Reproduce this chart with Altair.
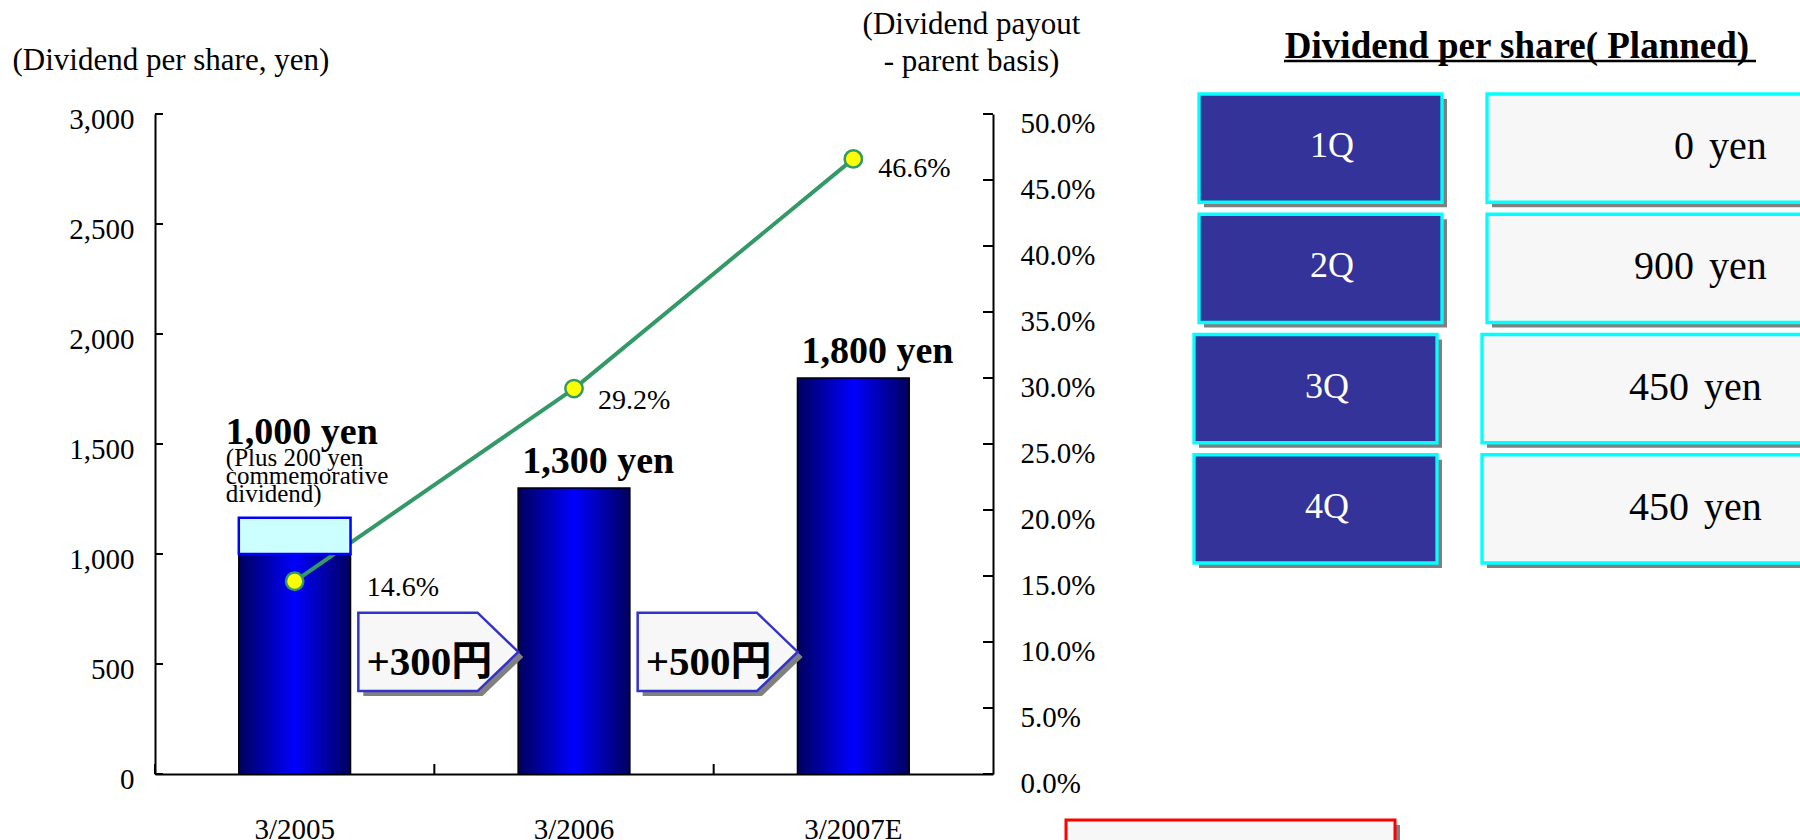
import altair as alt
import pandas as pd

# ---------------- data ----------------
YEARS = ["3/2005", "3/2006", "3/2007E"]
DIVIDEND = [1000, 1300, 1800]                 # yen per share
PAYOUT = [0.146, 0.292, 0.466]                # dividend payout, parent basis
COMMEM_BASE = [1000]                          # commemorative band on 3/2005
COMMEM_TOP = [1165]
NOTE_2005 = ["(Plus 200 yen", "commemorative", "dividend)"]
STEP_FROM = ["3/2005", "3/2006"]
STEP_TEXT = ["+300円", "+500円"]
STEP_LEVEL = [555, 555]
LEFT_TICKS = [0, 500, 1000, 1500, 2000, 2500, 3000]
RIGHT_TICKS = [0.0, 0.05, 0.10, 0.15, 0.20, 0.25, 0.30, 0.35, 0.40, 0.45, 0.50]
QUARTERS = ["1Q", "2Q", "3Q", "4Q"]
Q_AMOUNT = [0, 900, 450, 450]
TITLE_LEFT = "(Dividend per share, yen)"
TITLE_RIGHT = ["(Dividend payout", "- parent basis)"]
TABLE_TITLE = "Dividend per share( Planned)"

# ---------------- layout / style ----------------
W, H = 838, 660
PAD = {"left": 155, "top": 114, "right": 1800 - 155 - W, "bottom": 840 - 114 - H}
SERIF = "Liberation Serif, Noto Sans CJK JP, serif"
GREEN = "#339966"
ARROW = "M -1 -0.49 L 0.49 -0.49 L 1 0 L 0.49 0.49 L -1 0.49 Z"
ARROW_SIZE = 160 ** 2

GRAD = alt.LinearGradient(
    gradient="linear", x1=0, x2=1, y1=0, y2=0,
    stops=[alt.GradientStop(offset=0, color="#00005E"),
           alt.GradientStop(offset=0.5, color="#0000FF"),
           alt.GradientStop(offset=1, color="#00005E")])

df = pd.DataFrame({"year": YEARS, "div": DIVIDEND, "payout": PAYOUT})
box_df = pd.DataFrame({"year": YEARS[:1], "base": COMMEM_BASE, "top": COMMEM_TOP})
step_df = pd.DataFrame({"year": STEP_FROM, "level": STEP_LEVEL, "txt": STEP_TEXT})
lt_df = pd.DataFrame({"v": LEFT_TICKS})
rt_df = pd.DataFrame({"v": RIGHT_TICKS})
t_df = pd.DataFrame({"q": QUARTERS, "amt": Q_AMOUNT})
one = pd.DataFrame({"k": [0]})

x_axis = alt.Axis(domainColor="black", domainWidth=2, ticks=False, tickSize=0,
                  labelFont=SERIF, labelFontSize=29, labelColor="black",
                  labelPadding=41, labelAngle=0, grid=False)

y_left_axis = alt.Axis(orient="left", values=LEFT_TICKS, format=",.0f", grid=False,
                       ticks=False, tickSize=0, domainColor="black", domainWidth=2,
                       labelFont=SERIF, labelFontSize=29, labelColor="black",
                       labelPadding=21, labelOffset=5, labelFlush=False, labelOverlap=False,
                       title=TITLE_LEFT, titleAngle=0, titleAlign="left",
                       titleBaseline="middle", titleX=-143, titleY=-54,
                       titleFont=SERIF, titleFontSize=31, titleFontWeight="normal",
                       titleColor="black")

y_right_axis = alt.Axis(orient="right", values=RIGHT_TICKS, format=".1%", grid=False,
                        ticks=False, tickSize=0, domainColor="black", domainWidth=2,
                        labelFont=SERIF, labelFontSize=29, labelColor="black",
                        labelPadding=27, labelOffset=9, labelFlush=False, labelOverlap=False,
                        title=TITLE_RIGHT, titleAngle=0, titleAlign="center",
                        titleBaseline="top", titleX=-22, titleY=-105, titleLineHeight=37,
                        titleFont=SERIF, titleFontSize=31, titleFontWeight="normal",
                        titleColor="black")


def X(**kw):
    return alt.X("year:N", sort=YEARS, title=None, axis=x_axis,
                 scale=alt.Scale(type="band", paddingInner=0, paddingOuter=0), **kw)


def YL(field, axis=None):
    return alt.Y(f"{field}:Q", title=None, axis=axis,
                 scale=alt.Scale(domain=[0, 3000], nice=False, zero=True))


def YR(field, axis=None):
    return alt.Y(f"{field}:Q", title=None, axis=axis,
                 scale=alt.Scale(domain=[0, 0.5], nice=False, zero=True))


YT = alt.Y("q:N", sort=QUARTERS, axis=None, title=None,
           scale=alt.Scale(type="band", domain=QUARTERS, range=[-20, 449],
                           paddingInner=0.1, paddingOuter=0))

layers = []

# bars
layers.append(alt.Chart(df).mark_bar(width=alt.RelativeBandSize(0.4), fill=GRAD,
                                     stroke="black", strokeWidth=1.5)
              .encode(x=X(), y=YL("div", y_left_axis)))
# inner ticks
layers.append(alt.Chart(df).mark_rule(color="black", strokeWidth=2)
              .encode(x=X(bandPosition=0), y=alt.value(H - 10), y2=alt.value(H)))
layers.append(alt.Chart(lt_df).mark_rule(color="black", strokeWidth=2)
              .encode(y=YL("v"), x=alt.value(0), x2=alt.value(8)))
layers.append(alt.Chart(rt_df).mark_rule(color="black", strokeWidth=2)
              .encode(y=YR("v"), x=alt.value(W - 10), x2=alt.value(W)))
# payout line + points
layers.append(alt.Chart(df).mark_line(color=GREEN, strokeWidth=4)
              .encode(x=X(), y=YR("payout", y_right_axis)))
layers.append(alt.Chart(df).mark_circle(size=300, fill="#FFFF00", stroke=GREEN,
                                        strokeWidth=2.5, opacity=1)
              .encode(x=X(), y=YR("payout")))
# commemorative band
layers.append(alt.Chart(box_df).mark_bar(width=alt.RelativeBandSize(0.4), fill="#CCFFFF",
                                         stroke="#0000FF", strokeWidth=2.5)
              .encode(x=X(), y=YL("top"), y2=alt.Y2("base")))
# step arrows
layers.append(alt.Chart(step_df).mark_point(shape=ARROW, size=ARROW_SIZE, filled=True,
                                            fill="#808080", strokeWidth=0, opacity=1,
                                            xOffset=9, yOffset=5)
              .encode(x=X(bandPosition=1), y=YL("level")))
layers.append(alt.Chart(step_df).mark_point(shape=ARROW, size=ARROW_SIZE, filled=True,
                                            fill="#F7F7F7", stroke="#3333CC",
                                            strokeWidth=2.5, opacity=1, xOffset=4)
              .encode(x=X(bandPosition=1), y=YL("level")))
layers.append(alt.Chart(step_df).mark_text(font=SERIF, fontSize=41, fontWeight="bold",
                                           color="black", align="center", baseline="middle",
                                           dx=-5, dy=11)
              .encode(x=X(bandPosition=1), y=YL("level"), text="txt:N"))
# bar value labels
lab = alt.Chart(df).transform_calculate(label="format(datum.div, ',') + ' yen'")
layers.append(lab.transform_filter(f"datum.year != '{YEARS[0]}'")
              .mark_text(font=SERIF, fontSize=38, fontWeight="bold", color="black",
                         align="left", baseline="middle", dx=4, dy=-26)
              .encode(x=X(bandPosition=0.3), y=YL("div"), text="label:N"))
layers.append(lab.transform_filter(f"datum.year == '{YEARS[0]}'")
              .mark_text(font=SERIF, fontSize=38, fontWeight="bold", color="black",
                         align="left", baseline="middle", dx=-13, dy=-121)
              .encode(x=X(bandPosition=0.3), y=YL("div"), text="label:N"))
layers.append(alt.Chart(df).transform_filter(f"datum.year == '{YEARS[0]}'")
              .mark_text(font=SERIF, fontSize=25, lineHeight=18, color="black",
                         align="left", baseline="top", dx=-13, dy=-108)
              .encode(x=X(bandPosition=0.3), y=YL("div"), text=alt.value(NOTE_2005)))
# payout labels
PCT_OFFSETS = [(72, 7), (24, 12), (25, 10)]
for yr, (ddx, ddy) in zip(YEARS, PCT_OFFSETS):
    layers.append(alt.Chart(df).transform_filter(f"datum.year == '{yr}'")
                  .mark_text(font=SERIF, fontSize=28, color="black", align="left",
                             baseline="middle", dx=ddx, dy=ddy)
                  .encode(x=X(), y=YR("payout"), text=alt.Text("payout:Q", format=".1%")))

# ---------------- planned dividend table ----------------
LX1, LX2, RX1, RX2 = 1044, 1287, 1332, 1700
ROW_GROUPS = [(QUARTERS[:2], 0), (QUARTERS[2:], -5)]
for rows, shift in ROW_GROUPS:
    base = alt.Chart(t_df).transform_filter(alt.FieldOneOfPredicate(field="q", oneOf=rows))
    for xa, xb, fill in [(LX1, LX2, "#333399"), (RX1, RX2, "#F7F7F7")]:
        layers.append(base.mark_rect(fill="#808080", xOffset=5 + shift, x2Offset=5 + shift,
                                     yOffset=5, y2Offset=5)
                      .encode(y=YT, x=alt.value(xa), x2=alt.value(xb)))
        layers.append(base.mark_rect(fill=fill, stroke="#00FFFF", strokeWidth=3.3,
                                     xOffset=shift, x2Offset=shift)
                      .encode(y=YT, x=alt.value(xa), x2=alt.value(xb)))
    layers.append(base.mark_text(font=SERIF, fontSize=36, color="white",
                                 align="center", baseline="middle", dy=-2, dx=shift)
                  .encode(y=YT, x=alt.value(1177), text="q:N"))
    layers.append(base.mark_text(font=SERIF, fontSize=40, color="black",
                                 align="right", baseline="middle", dy=-1, dx=shift)
                  .encode(y=YT, x=alt.value(1539), text=alt.Text("amt:Q", format="d")))
    layers.append(base.mark_text(font=SERIF, fontSize=40, color="black",
                                 align="left", baseline="middle", dy=-1, dx=shift)
                  .encode(y=YT, x=alt.value(1554), text=alt.value("yen")))

layers.append(alt.Chart(one).mark_text(font=SERIF, fontSize=37, fontWeight="bold",
                                       color="black", align="center", baseline="middle")
              .encode(x=alt.value(1362), y=alt.value(-67), text=alt.value(TABLE_TITLE)))
layers.append(alt.Chart(one).mark_rule(color="black", strokeWidth=2.5)
              .encode(x=alt.value(1129), x2=alt.value(1601), y=alt.value(-53)))

# empty red frame at the bottom
layers.append(alt.Chart(one).mark_rect(fill="#808080")
              .encode(x=alt.value(916), x2=alt.value(1245), y=alt.value(711), y2=alt.value(770)))
layers.append(alt.Chart(one).mark_rect(fill="#F7F7F7", stroke="#FF0000", strokeWidth=3)
              .encode(x=alt.value(911), x2=alt.value(1240), y=alt.value(706), y2=alt.value(770)))

chart = (alt.layer(*layers)
         .resolve_scale(y="independent")
         .properties(width=W, height=H, padding=PAD,
                     autosize=alt.AutoSizeParams(type="none"))
         .configure_view(strokeWidth=0))

chart.save("out.html", embed_options={"renderer": "svg", "actions": False})
